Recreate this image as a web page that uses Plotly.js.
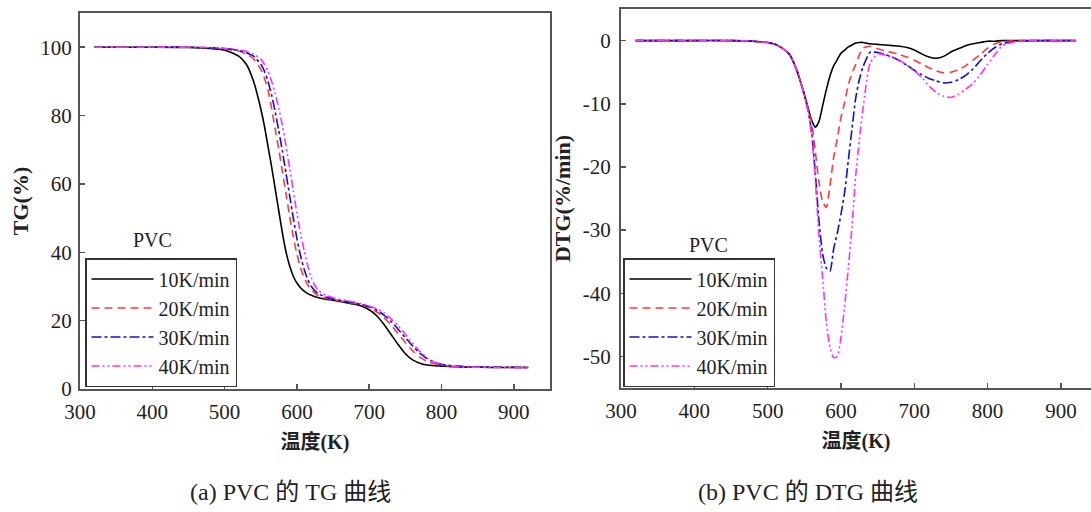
<!DOCTYPE html>
<html>
<head>
<meta charset="utf-8">
<script src="https://cdn.plot.ly/plotly-3.0.1.min.js"></script>
<style>html,body{margin:0;padding:0;background:#fff;}#chart{width:1091px;height:512px;}</style>
</head>
<body>
<div id="chart"></div>
<script>
// Temperature grid (K)
const temperature = [320,400,450,480,500,510,520,530,540,550,555,560,565,570,575,580,585,590,595,600,605,610,615,620,625,630,640,650,660,670,680,690,700,710,720,730,740,750,760,770,780,790,800,810,820,840,870,920];

const seriesNames = ['10K/min','20K/min','30K/min','40K/min'];

// TG (%)
const tg10 = [100,100,99.9,99.6,99.1,98.4,97.3,95,90,82,77,71,65,58.5,52,45.5,40,36,33,31,29.6,28.6,27.9,27.4,27,26.7,26.3,26,25.6,25.2,24.8,24.2,23.2,21.5,19,16,13,10.3,8.5,7.5,7.0,6.8,6.7,6.6,6.5,6.4,6.3,6.3];
const tg20 = [100,100,100,99.8,99.5,99.2,98.8,98,96.6,93.5,91,87.5,82,76,70,63.5,57,50.5,44.5,39.5,35.5,32.5,30.5,29,28,27.3,26.6,26.2,25.8,25.4,25,24.5,23.8,22.6,21,18.8,16.2,13.6,11.2,9.3,8.1,7.4,7.0,6.8,6.7,6.5,6.4,6.3];
const tg30 = [100,100,100,99.8,99.6,99.4,99,98.4,97.4,95,93,90,86,81,75.5,69.5,63,56.5,50,44,39,35,32,30,28.7,27.8,26.9,26.4,26,25.6,25.2,24.7,24.1,23.1,21.7,19.8,17.5,15,12.6,10.5,8.9,7.8,7.2,6.9,6.7,6.5,6.4,6.3];
const tg40 = [100,100,100,99.9,99.7,99.5,99.2,98.8,98,96.5,95,93,90,86.5,82,77,71,64.5,58,51.5,45.5,40.5,36,32.5,30.2,28.8,27.4,26.7,26.2,25.8,25.4,24.9,24.3,23.5,22.3,20.6,18.5,16,13.4,11,9.1,7.9,7.2,6.8,6.6,6.4,6.3,6.2];

// DTG (%/min)
const dtg10 = [0,0,0,-0.1,-0.3,-0.6,-1.2,-2.2,-4.8,-8.5,-10.6,-12.6,-13.7,-12.8,-10.3,-7.8,-5.6,-4.0,-3.0,-2.0,-1.5,-1.0,-0.7,-0.4,-0.3,-0.3,-0.5,-0.6,-0.7,-0.8,-0.9,-1.1,-1.5,-2.1,-2.6,-2.8,-2.5,-1.8,-1.3,-0.8,-0.5,-0.3,-0.1,-0.1,0,0,0,0];
const dtg20 = [0,0,0,-0.1,-0.3,-0.6,-1.2,-2.2,-4.8,-8.6,-11,-13,-17.5,-22.5,-25.5,-26.4,-23,-18.5,-15.5,-12.2,-9.8,-7.0,-5.2,-3.8,-2.3,-1.2,-0.9,-1.3,-1.6,-1.9,-2.2,-2.6,-3.1,-3.7,-4.3,-4.8,-5.1,-5.0,-4.6,-4.0,-3.1,-2.2,-1.2,-0.5,-0.2,0,0,0];
const dtg30 = [0,0,0,-0.1,-0.3,-0.6,-1.2,-2.2,-4.8,-8.6,-11,-14.5,-21,-28.5,-33.8,-36,-36.5,-33,-30.5,-27.5,-24,-19,-14,-9.2,-6.2,-4.2,-1.8,-1.9,-2.2,-2.6,-3.2,-3.9,-4.7,-5.4,-6.0,-6.4,-6.7,-6.6,-6.2,-5.5,-4.5,-3.2,-2.0,-1.1,-0.5,-0.1,0,0];
const dtg40 = [0,0,0,-0.1,-0.3,-0.6,-1.2,-2.2,-4.8,-8.6,-11,-15,-22,-31,-37.5,-44.5,-48.5,-50.2,-50,-47,-42,-36,-29.5,-21.5,-15.8,-10.8,-3.5,-2.1,-2.3,-2.7,-3.1,-3.9,-4.8,-5.8,-7.2,-8.2,-8.8,-9.0,-8.5,-7.7,-6.8,-5.4,-3.8,-2.2,-0.8,-0.1,0,0];

const xTicks = [300,400,500,600,700,800,900];
const tgTicks = [0,20,40,60,80,100];
const dtgTicks = [-50,-40,-30,-20,-10,0];
const dtgTickText = ['-50','-40','-30','-20','-10','0'];

const colors = ['#000000','#ff3b3b','#1010d0','#ff30ff'];
const dashes = ['solid','8px,5px','10px,3px,3px,3px','8px,3px,2px,3px,2px,3px'];
const tgSeries = [tg10,tg20,tg30,tg40];
const dtgSeries = [dtg10,dtg20,dtg30,dtg40];

const FONT = 'Liberation Serif, Times New Roman, Noto Sans CJK SC, serif';
const traces = [];
tgSeries.forEach((s,i)=>{
  traces.push({x:temperature,y:s,type:'scatter',mode:'lines',name:seriesNames[i],
    line:{color:colors[i],width:1.6,dash:dashes[i],shape:'spline',smoothing:0.6},
    xaxis:'x',yaxis:'y',legend:'legend'});
});
dtgSeries.forEach((s,i)=>{
  traces.push({x:temperature,y:s,type:'scatter',mode:'lines',name:seriesNames[i],
    line:{color:colors[i],width:1.6,dash:dashes[i],shape:'spline',smoothing:0.6},
    xaxis:'x2',yaxis:'y2',legend:'legend2'});
});

const axisCommon = {
  showgrid:false, zeroline:false, showline:true, linecolor:'#555', linewidth:2,
  ticks:'inside', ticklen:5, tickwidth:1.5, tickcolor:'#555',
  tickfont:{family:FONT,size:21,color:'#222'}, fixedrange:true
};
const legendCommon = {
  bgcolor:'#ffffff', bordercolor:'#333', borderwidth:1.5,
  font:{family:FONT,size:20,color:'#222'}, itemwidth:62,
  xanchor:'left', yanchor:'top', tracegroupgap:0
};

const layout = {
  width:1091, height:512,
  margin:{l:0,r:0,t:0,b:0},
  paper_bgcolor:'#ffffff', plot_bgcolor:'#ffffff',
  showlegend:true,
  xaxis:Object.assign({}, axisCommon, {domain:[80/1091, 550/1091], range:[300,950], tickvals:xTicks, mirror:true, anchor:'y',
    ticklabelstandoff:3,
    title:{text:'<b>温度(K)</b>', font:{family:FONT,size:20,color:'#222'}, standoff:12}}),
  yaxis:Object.assign({}, axisCommon, {domain:[(512-389)/512, (512-13)/512], range:[0,110], tickvals:tgTicks, mirror:true, anchor:'x',
    ticklabelstandoff:2,
    title:{text:'<b>TG(%)</b>', font:{family:FONT,size:22,color:'#222'}, standoff:6}}),
  xaxis2:Object.assign({}, axisCommon, {domain:[621/1091, 1], range:[300,941], tickvals:xTicks, mirror:true, anchor:'y2',
    ticklabelstandoff:3,
    title:{text:'<b>温度(K)</b>', font:{family:FONT,size:20,color:'#222'}, standoff:12}}),
  yaxis2:Object.assign({}, axisCommon, {domain:[(512-388)/512, (512-9)/512], range:[-55,5], tickvals:dtgTicks, ticktext:dtgTickText, mirror:false, anchor:'x2',
    ticklabelstandoff:4,
    title:{text:'<b>DTG(%/min)</b>', font:{family:FONT,size:22,color:'#222'}, standoff:6}}),
  legend:Object.assign({}, legendCommon, {x:85/1091, y:(512-258)/512}),
  legend2:Object.assign({}, legendCommon, {x:623/1091, y:(512-258)/512}),
  annotations:[
    {text:'PVC', xref:'paper', yref:'paper', x:152/1091, y:(512-240)/512, xanchor:'center', yanchor:'middle', showarrow:false, font:{family:FONT,size:20,color:'#222'}},
    {text:'PVC', xref:'paper', yref:'paper', x:708/1091, y:(512-245)/512, xanchor:'center', yanchor:'middle', showarrow:false, font:{family:FONT,size:20,color:'#222'}},
    {text:'(a) PVC 的 TG 曲线', xref:'paper', yref:'paper', x:290/1091, y:(512-492)/512, xanchor:'center', yanchor:'middle', showarrow:false, font:{family:FONT,size:24,color:'#222'}},
    {text:'(b) PVC 的 DTG 曲线', xref:'paper', yref:'paper', x:808/1091, y:(512-492)/512, xanchor:'center', yanchor:'middle', showarrow:false, font:{family:FONT,size:24,color:'#222'}}
  ]
};

Plotly.newPlot('chart', traces, layout, {displayModeBar:false, staticPlot:true});
</script>
</body>
</html>
